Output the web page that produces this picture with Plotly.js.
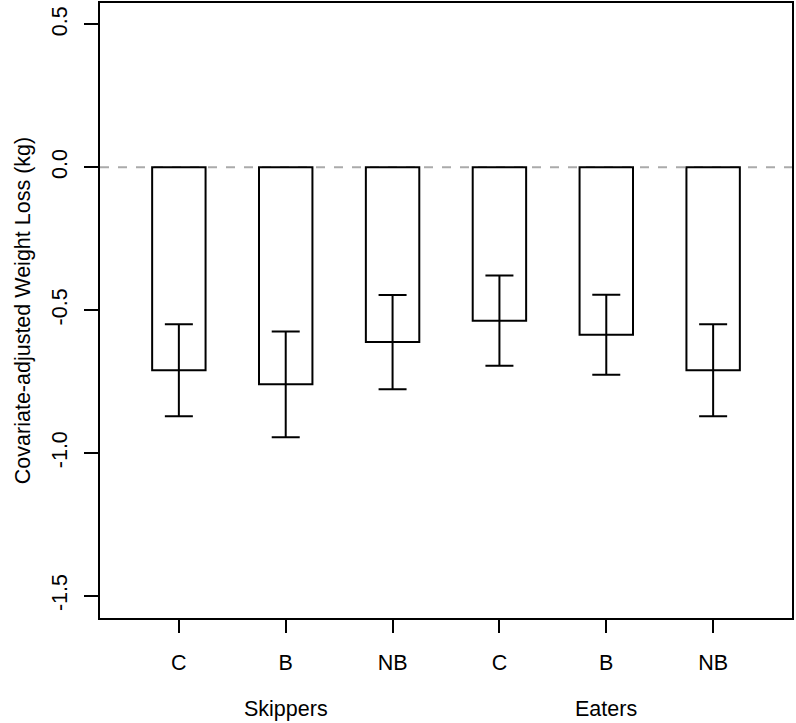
<!DOCTYPE html>
<html>
<head>
<meta charset="utf-8">
<script src="https://cdn.plot.ly/plotly-3.0.1.min.js"></script>
<style>html,body{margin:0;padding:0;background:#fff;}#chart{width:796px;height:723px;}</style>
</head>
<body>
<div id="chart"></div>
<script>
var categories = ["C", "B", "NB", "C", "B", "NB"];
var groups = ["Skippers", "Eaters"];
var groupCenters = [2, 5];
var means = [-0.711, -0.760, -0.612, -0.537, -0.586, -0.711];
var errors = [0.161, 0.185, 0.165, 0.158, 0.140, 0.161];
var yTicks = [0.5, 0.0, -0.5, -1.0, -1.5];
var yTickText = ["0.5", "0.0", "-0.5", "-1.0", "-1.5"];

var xpos = categories.map(function (c, i) { return i + 1; });
var font = {family: "Liberation Sans, Arial, sans-serif", size: 21.5, color: "#000"};

var trace = {
  type: "bar",
  x: xpos,
  y: means,
  width: 0.5,
  marker: {color: "#fff", line: {color: "#000", width: 2}},
  error_y: {type: "data", array: errors, visible: true, color: "#000", thickness: 2, width: 14},
  hoverinfo: "skip"
};

var layout = {
  width: 796, height: 723,
  margin: {l: 100, r: 4, t: 3, b: 105},
  paper_bgcolor: "#fff", plot_bgcolor: "#fff",
  font: font,
  showlegend: false,
  bargap: 0,
  xaxis: {
    range: [0.262, 6.738],
    tickvals: xpos, ticktext: categories,
    ticks: "outside", ticklen: 13, tickwidth: 2, tickcolor: "#000",
    ticklabelstandoff: 11,
    showline: true, linecolor: "#000", linewidth: 2, mirror: true,
    showgrid: false, zeroline: false, tickfont: font
  },
  yaxis: {
    range: [-1.578, 0.575],
    tickvals: yTicks, ticktext: yTickText, tickangle: -90,
    ticks: "outside", ticklen: 14, tickwidth: 2, tickcolor: "#000",
    ticklabelstandoff: 8,
    showline: true, linecolor: "#000", linewidth: 2, mirror: true,
    showgrid: false, zeroline: false, tickfont: font,
    title: {text: "Covariate-adjusted Weight Loss (kg)", font: font, standoff: 12}
  },
  shapes: [{
    type: "line", xref: "paper", x0: 0, x1: 1, yref: "y", y0: 0, y1: 0,
    line: {color: "#aaaaaa", width: 2, dash: "dash"}, layer: "below"
  }],
  annotations: groups.map(function (g, i) {
    return {text: g, x: groupCenters[i], xref: "x", y: -0.148, yref: "paper",
            showarrow: false, font: font, yanchor: "middle"};
  })
};

Plotly.newPlot("chart", [trace], layout, {displayModeBar: false, staticPlot: true});
</script>
</body>
</html>
